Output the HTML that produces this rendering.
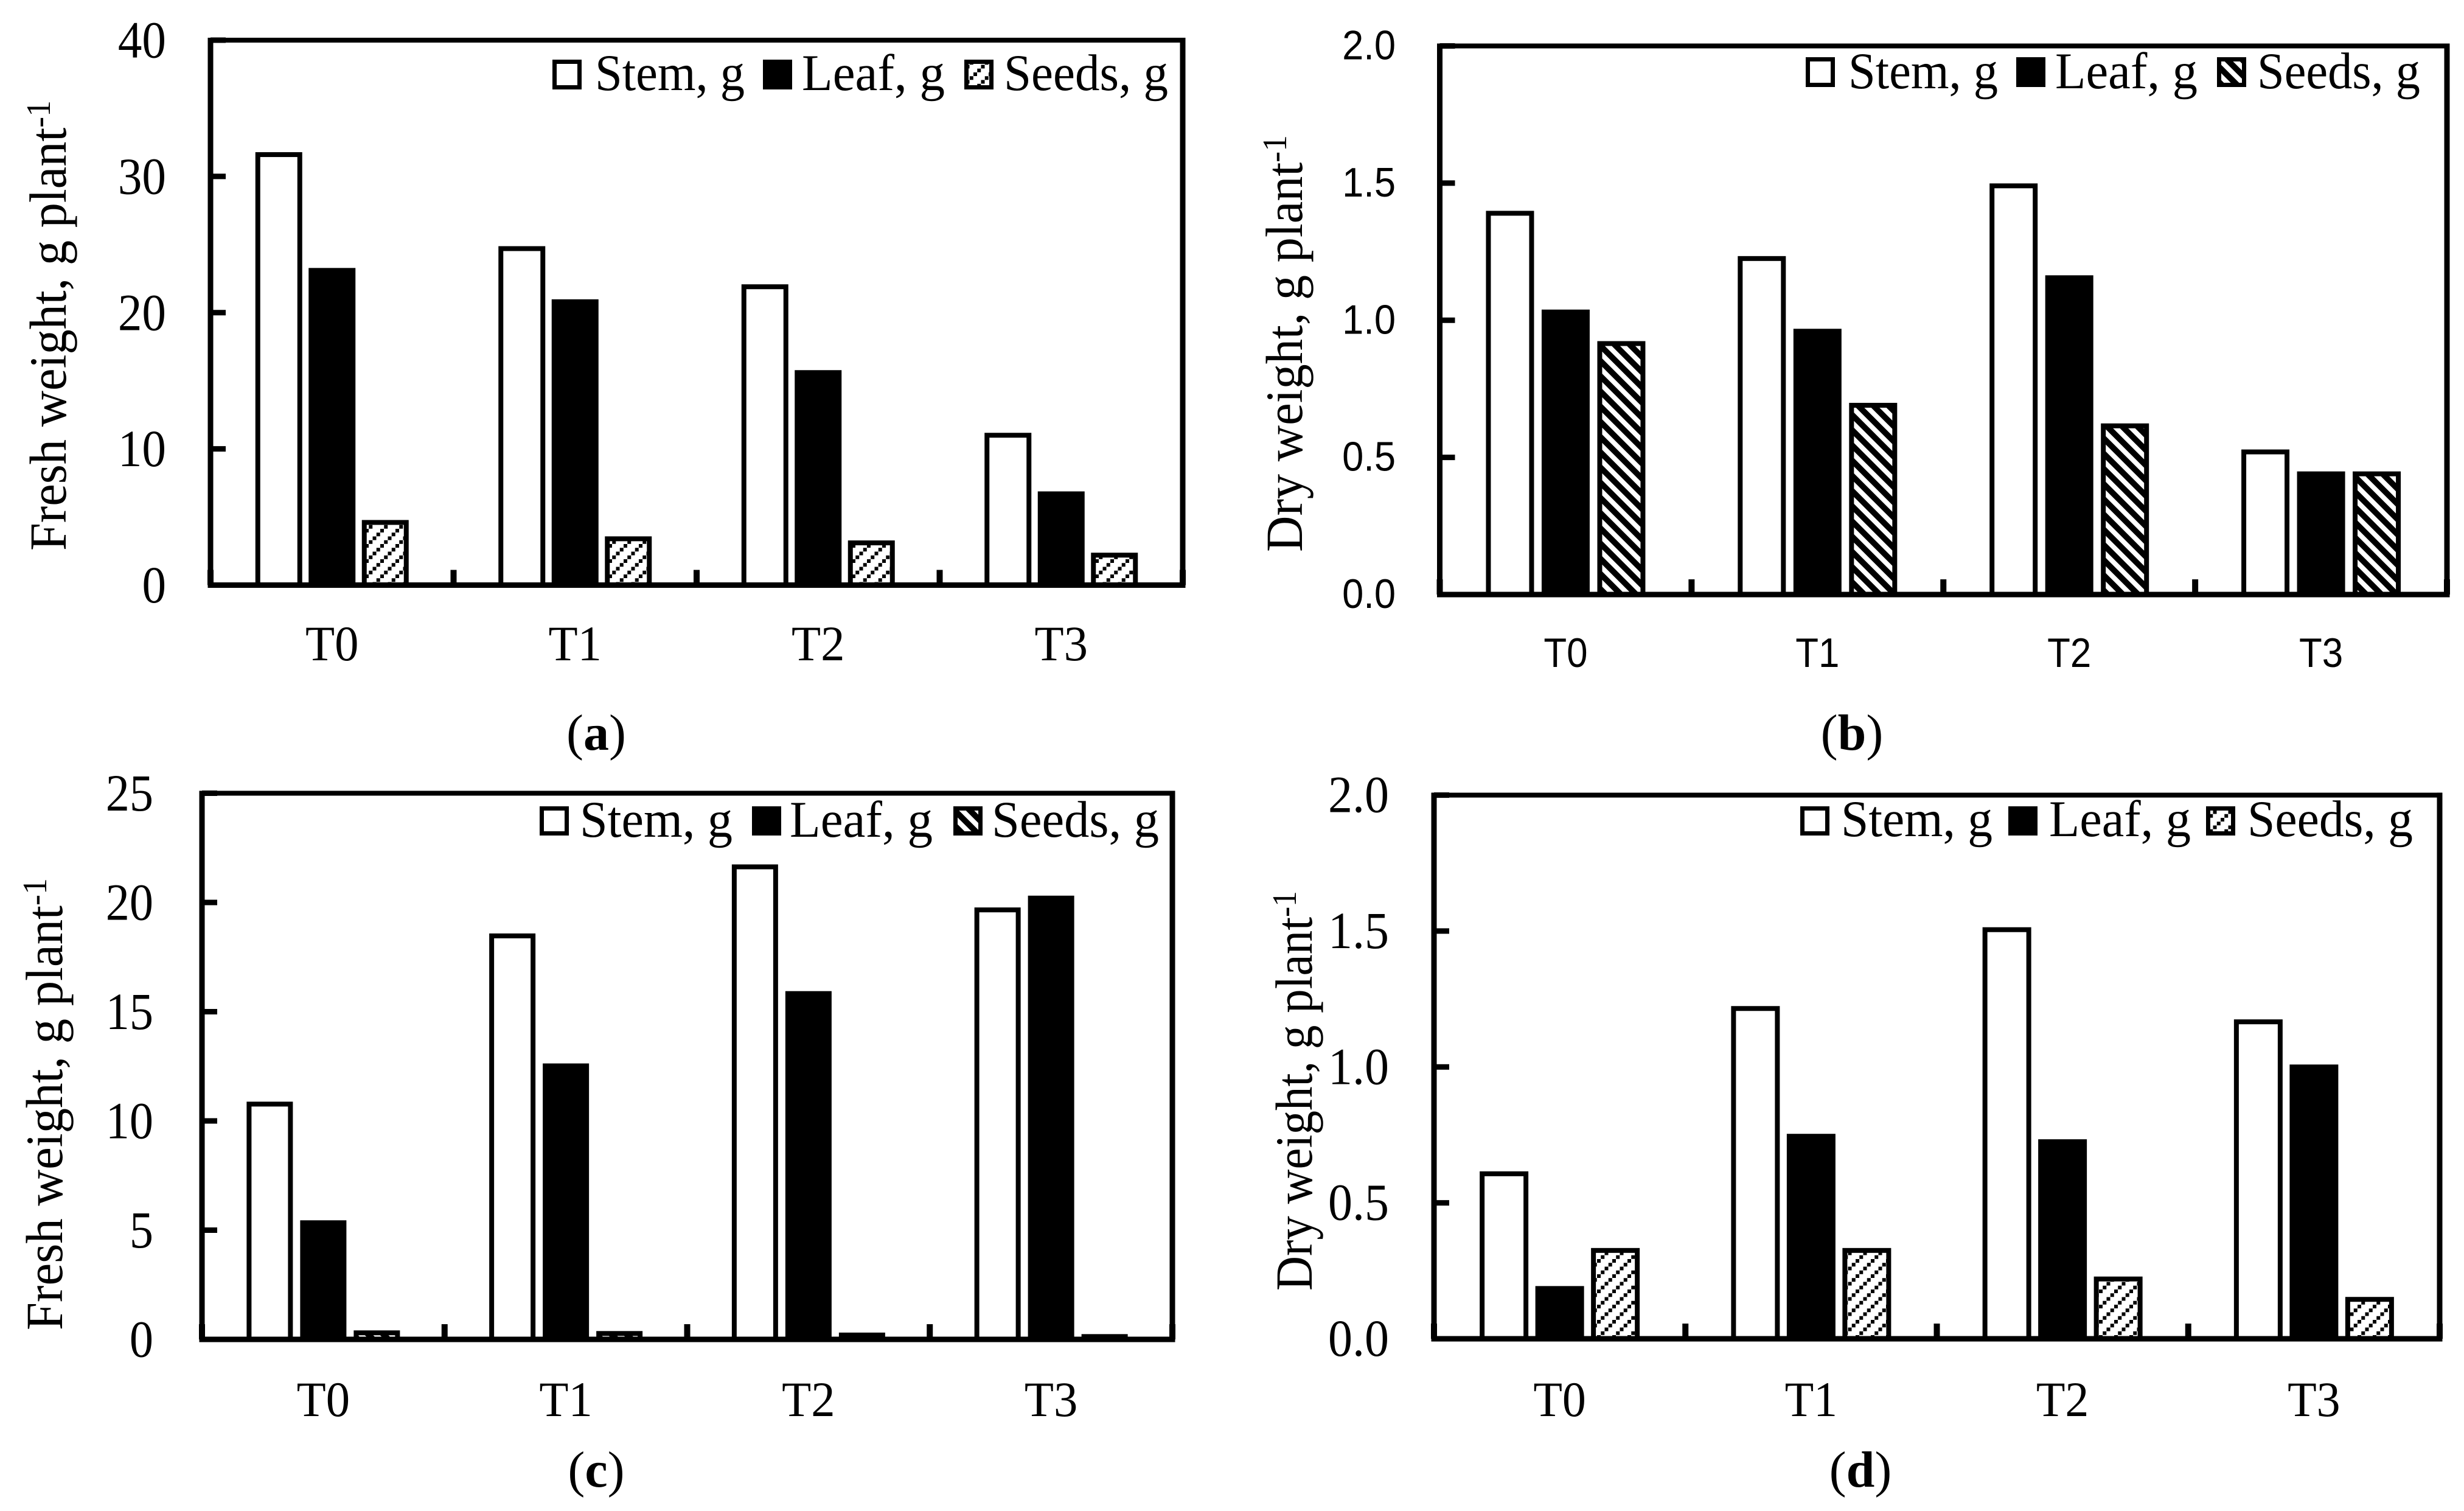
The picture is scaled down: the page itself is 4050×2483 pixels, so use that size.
<!DOCTYPE html>
<html lang="en">
<head>
<meta charset="utf-8">
<title>Fresh and dry weight of stem, leaf and seeds</title>
<style>
  html, body { margin: 0; padding: 0; background: #fff; }
  svg { display: block; }
</style>
</head>
<body>
<svg id="figure" xmlns="http://www.w3.org/2000/svg" width="4050" height="2483" viewBox="0 0 4050 2483">
  <defs>
    <pattern id="hatch-up" patternUnits="userSpaceOnUse" width="25" height="25">
      <rect width="25" height="25" fill="#fff"/>
      <rect x="0" y="19" width="6" height="6" fill="#000"/>
      <rect x="6.25" y="12.75" width="6" height="6" fill="#000"/>
      <rect x="12.5" y="6.5" width="6" height="6" fill="#000"/>
      <rect x="18.75" y="0.25" width="6" height="6" fill="#000"/>
    </pattern>
    <pattern id="hatch-down" patternUnits="userSpaceOnUse" width="25" height="25">
      <rect width="25" height="25" fill="#000"/>
      <path d="M-6 -6L31 31M-6 19L6 31M19 -6L31 6" stroke="#fff" stroke-width="8" fill="none"/>
    </pattern>
  </defs>
  <rect width="4050" height="2483" fill="#fff"/>
</svg>
<script>
const categories = ['T0', 'T1', 'T2', 'T3'];
const legendLabels = ['Stem, g', 'Leaf, g', 'Seeds, g'];

const ticksA = [0, 10, 20, 30, 40];
const stemA = [31.6, 24.7, 21.9, 11.0];
const leafA = [23.1, 20.8, 15.6, 6.7];
const seedsA = [4.6, 3.4, 3.1, 2.2];

const ticksB = [0, 0.5, 1.0, 1.5, 2.0];
const stemB = [1.39, 1.225, 1.49, 0.52];
const leafB = [1.03, 0.96, 1.155, 0.44];
const seedsB = [0.915, 0.69, 0.615, 0.44];

const ticksC = [0, 5, 10, 15, 20, 25];
const stemC = [10.77, 18.47, 21.63, 19.66];
const leafC = [5.34, 12.52, 15.83, 20.2];
const seedsC = [0.3, 0.27, 0.2, 0.13];

const ticksD = [0, 0.5, 1.0, 1.5, 2.0];
const stemD = [0.607, 1.215, 1.505, 1.166];
const leafD = [0.185, 0.745, 0.725, 1.0];
const seedsD = [0.325, 0.325, 0.22, 0.145];

const NS = 'http://www.w3.org/2000/svg';
const figure = document.getElementById('figure');
const SERIF = '"Liberation Serif", serif';
const SANS = '"Liberation Sans", sans-serif';

function addRect(parent, name, x, y, w, h, fill, stroke, strokeWidth) {
  const el = document.createElementNS(NS, 'rect');
  
  
  el.setAttribute('x', x);
  el.setAttribute('y', y);
  el.setAttribute('width', w);
  el.setAttribute('height', h);
  el.setAttribute('fill', fill);
  if (stroke) {
    el.setAttribute('stroke', stroke);
    el.setAttribute('stroke-width', strokeWidth);
  }
  parent.appendChild(el);
  return el;
}

/* opts: scale (horizontal stretch) or width (target length), anchor, rotate */
function addText(parent, name, markup, x, y, size, family, opts) {
  const el = document.createElementNS(NS, 'text');
  
  
  el.setAttribute('font-family', family);
  el.setAttribute('font-size', size);
  el.setAttribute('fill', '#000');
  el.innerHTML = markup;
  parent.appendChild(el);
  const natural = el.getComputedTextLength();
  const s = opts.width ? opts.width / natural : (opts.scale || 1);
  const drawn = natural * s;
  let shift = 0;
  if (opts.anchor === 'end') shift = -drawn;
  if (opts.anchor === 'middle') shift = -drawn / 2;
  const angle = opts.rotate || 0;
  el.setAttribute('transform', 'translate(' + x + ',' + y + ') rotate(' + angle + ') translate(' + shift + ',0) scale(' + s + ',1)');
  return el;
}

function drawPanel(cfg, ticks, stem, leaf, seeds) {
  const panel = document.createElementNS(NS, 'g');
  
  
  figure.appendChild(panel);

  const yMax = ticks[ticks.length - 1];
  const yScale = function (v) { return cfg.bottom - (v / yMax) * (cfg.bottom - cfg.top); };
  const bandWidth = (cfg.right - cfg.left) / categories.length;
  const xCenter = function (i) { return cfg.left + bandWidth * (i + 0.5); };

  const seriesList = [
    { key: 'stem', values: stem, fill: '#fff' },
    { key: 'leaf', values: leaf, fill: '#000' },
    { key: 'seeds', values: seeds, fill: 'url(#' + cfg.hatch + ')' }
  ];

  /* bars */
  seriesList.forEach(function (series, s) {
    series.values.forEach(function (value, i) {
      const cx = xCenter(i) + (s - 1) * cfg.barPitch;
      const top = yScale(value);
      addRect(panel, 'bar-' + cfg.id + '-' + series.key + '-' + categories[i],
        cx - cfg.barWidth / 2, top, cfg.barWidth, cfg.bottom - top, series.fill, '#000', 8);
    });
  });

  /* frame */
  const t = cfg.frame;
  addRect(panel, 'frame-top', cfg.left - 4, cfg.top - t / 2, cfg.right - cfg.left + 8, t, '#000');
  addRect(panel, 'frame-right', cfg.right - 4.5, cfg.top - t / 2, 9, cfg.bottom - cfg.top + t / 2, '#000');
  addRect(panel, 'y-axis-line', cfg.left - 4.5, cfg.top - t / 2, 9, cfg.bottom - cfg.top + t / 2, '#000');
  addRect(panel, 'x-axis-line', cfg.left - 4.5, cfg.bottom - 4.5, cfg.right - cfg.left + 9, 9, '#000');

  /* y ticks and labels */
  ticks.forEach(function (tick) {
    const y = yScale(tick);
    addRect(panel, 'y-tick-' + tick, cfg.left, y - 4.5, 25, 9, '#000');
    const text = cfg.decimals ? tick.toFixed(cfg.decimals) : String(tick);
    addText(panel, 'y-tick-label-' + tick, text, cfg.tickRight, y + cfg.tickDrop, cfg.tickSize, cfg.tickFont,
      { scale: cfg.tickScale, anchor: 'end' });
  });

  /* x ticks and labels */
  for (let i = 0; i <= categories.length; i++) {
    const x = cfg.left + bandWidth * i;
    addRect(panel, 'x-tick-' + i, x - 5, cfg.bottom - 25, 10, 25, '#000');
  }
  categories.forEach(function (cat, i) {
    addText(panel, 'x-tick-label-' + cat, cat, xCenter(i), cfg.catBaseline, cfg.catSize, cfg.tickFont,
      { scale: cfg.catScale, anchor: 'middle' });
  });

  /* y-axis title */
  addText(panel, 'y-axis-title', cfg.title + ', g plant<tspan dy="-26" font-size="56">-1</tspan>',
    cfg.titleX, cfg.titleBottom, 86, SERIF, { width: cfg.titleLength, rotate: -90 });

  /* caption */
  addText(panel, 'panel-caption', '(<tspan font-weight="bold">' + cfg.id + '</tspan>)',
    cfg.captionX, cfg.captionY, 84, SERIF, { anchor: 'middle' });

  /* legend */
  const legend = document.createElementNS(NS, 'g');
  
  
  panel.appendChild(legend);
  seriesList.forEach(function (series, s) {
    const entry = cfg.legend[s];
    addRect(legend, 'legend-swatch-' + series.key, entry.swatch + 3.5, cfg.legendTop + 3.5,
      41, cfg.legendHeight - 7, series.fill, '#000', 7);
    addText(legend, 'legend-label-' + series.key, legendLabels[s], entry.text, cfg.legendBaseline, 85, SERIF,
      { width: entry.width });
  });
}

drawPanel({
  id: 'a', left: 346, right: 1944, top: 66, bottom: 961.5, frame: 8, hatch: 'hatch-up',
  barPitch: 87.5, barWidth: 69,
  tickRight: 273, tickDrop: 28.5, tickSize: 86, tickFont: SERIF, tickScale: 0.92, decimals: 0,
  catBaseline: 1085, catSize: 82, catScale: 0.96,
  title: 'Fresh weight', titleX: 108, titleBottom: 905, titleLength: 740,
  captionX: 980, captionY: 1232,
  legendTop: 98, legendHeight: 49, legendBaseline: 148,
  legend: [
    { swatch: 908, text: 978, width: 246 },
    { swatch: 1254, text: 1318, width: 235 },
    { swatch: 1585, text: 1650, width: 270 }
  ]
}, ticksA, stemA, leafA, seedsA);

drawPanel({
  id: 'b', left: 2366.5, right: 4022, top: 75.5, bottom: 977, frame: 8, hatch: 'hatch-down',
  barPitch: 91.5, barWidth: 71,
  tickRight: 2294, tickDrop: 22, tickSize: 68, tickFont: SANS, tickScale: 0.93, decimals: 1,
  catBaseline: 1096, catSize: 68, catScale: 0.91,
  title: 'Dry weight', titleX: 2140, titleBottom: 907, titleLength: 685,
  captionX: 3044, captionY: 1232,
  legendTop: 94, legendHeight: 49, legendBaseline: 145,
  legend: [
    { swatch: 2968, text: 3038, width: 246 },
    { swatch: 3314, text: 3378, width: 234 },
    { swatch: 3644, text: 3710, width: 268 }
  ]
}, ticksB, stemB, leafB, seedsB);

drawPanel({
  id: 'c', left: 332, right: 1927, top: 1303.5, bottom: 2201, frame: 8, hatch: 'hatch-down',
  barPitch: 88, barWidth: 68,
  tickRight: 252, tickDrop: 28.5, tickSize: 86, tickFont: SERIF, tickScale: 0.91, decimals: 0,
  catBaseline: 2327, catSize: 82, catScale: 0.96,
  title: 'Fresh weight', titleX: 102, titleBottom: 2186, titleLength: 743,
  captionX: 980, captionY: 2443,
  legendTop: 1325, legendHeight: 48, legendBaseline: 1375,
  legend: [
    { swatch: 887, text: 953, width: 251 },
    { swatch: 1236, text: 1298, width: 235 },
    { swatch: 1567, text: 1630, width: 275 }
  ]
}, ticksC, stemC, leafC, seedsC);

drawPanel({
  id: 'd', left: 2357, right: 4010, top: 1306.6, bottom: 2200, frame: 8, hatch: 'hatch-up',
  barPitch: 91.5, barWidth: 72,
  tickRight: 2283, tickDrop: 28, tickSize: 86, tickFont: SERIF, tickScale: 0.93, decimals: 1,
  catBaseline: 2327, catSize: 82, catScale: 0.95,
  title: 'Dry weight', titleX: 2156, titleBottom: 2121, titleLength: 657,
  captionX: 3058, captionY: 2443,
  legendTop: 1325, legendHeight: 48, legendBaseline: 1374,
  legend: [
    { swatch: 2959, text: 3026, width: 249 },
    { swatch: 3301, text: 3368, width: 233 },
    { swatch: 3626, text: 3694, width: 272 }
  ]
}, ticksD, stemD, leafD, seedsD);
</script>
</body>
</html>
